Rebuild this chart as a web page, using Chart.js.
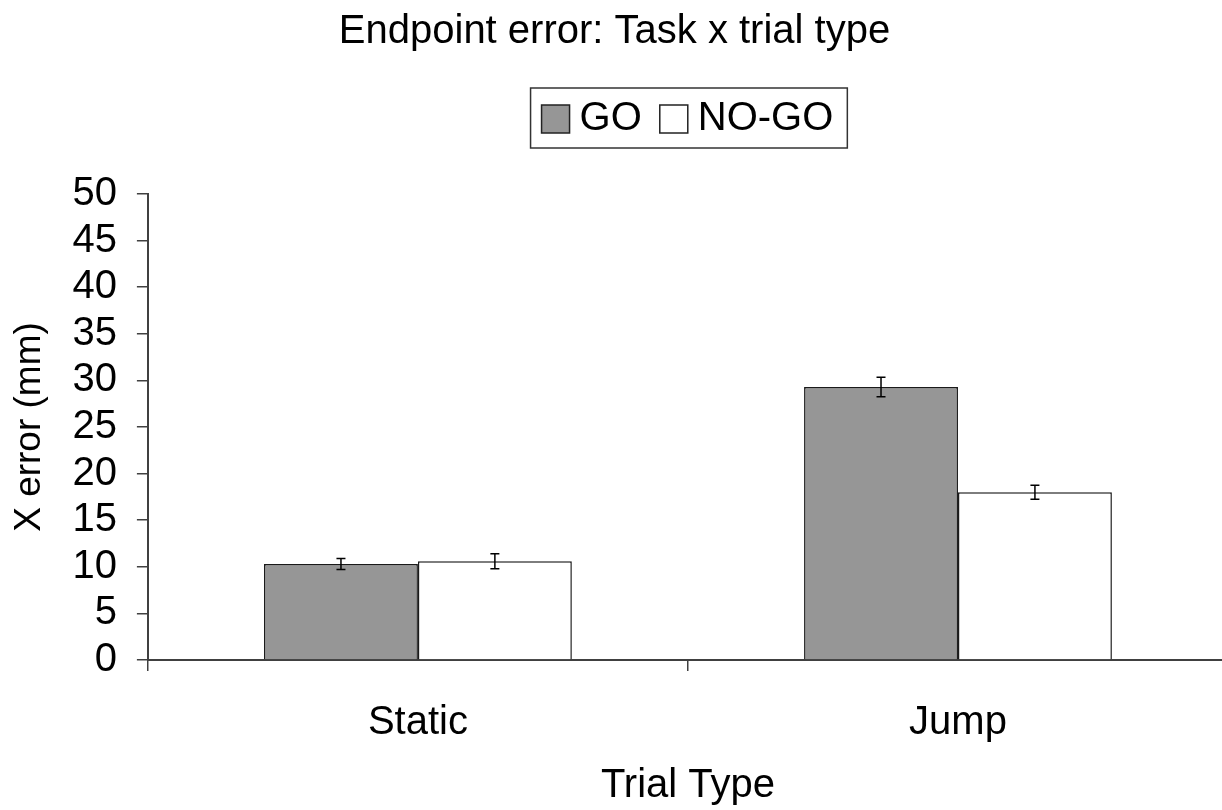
<!DOCTYPE html>
<html>
<head>
<meta charset="utf-8">
<script src="https://cdn.jsdelivr.net/npm/chart.js@4.4.1/dist/chart.umd.min.js"></script>
<style>
  html, body { margin: 0; padding: 0; background: #fff; overflow: hidden; }
  #wrap { width: 1232px; height: 810px; position: relative; }
</style>
</head>
<body>
<div id="wrap"><canvas id="c"></canvas></div>
<script>
const categories = ['Static', 'Jump'];
const seriesNames = ['GO', 'NO-GO'];
const goValues = [10.3, 29.3];
const goErrors = [0.6, 1.05];
const nogoValues = [10.6, 18.0];
const nogoErrors = [0.8, 0.75];
const yMin = 0, yMax = 50, yStep = 5;
const titleText = 'Endpoint error: Task x trial type';
const xTitle = 'Trial Type';
const yTitle = 'X error (mm)';

const FONT = '"Liberation Sans", Arial, Helvetica, sans-serif';
const errorSets = [goErrors, nogoErrors];

const errorBarPlugin = {
  id: 'errorBars',
  afterDatasetsDraw(chart) {
    const ctx = chart.ctx;
    const ys = chart.scales.y;
    ctx.save();
    ctx.strokeStyle = '#000';
    ctx.lineWidth = 1.5;
    chart.data.datasets.forEach((ds, i) => {
      const meta = chart.getDatasetMeta(i);
      meta.data.forEach((bar, j) => {
        const v = ds.data[j], e = errorSets[i][j];
        const top = ys.getPixelForValue(v + e);
        const bot = ys.getPixelForValue(v - e);
        const x = bar.x, cw = 4.5;
        ctx.beginPath();
        ctx.moveTo(x, top); ctx.lineTo(x, bot);
        ctx.moveTo(x - cw, top); ctx.lineTo(x + cw, top);
        ctx.moveTo(x - cw, bot); ctx.lineTo(x + cw, bot);
        ctx.stroke();
      });
    });
    ctx.restore();
  }
};

const boxLegendPlugin = {
  id: 'boxLegend',
  afterDraw(chart) {
    const ctx = chart.ctx;
    const ca = chart.chartArea;
    ctx.save();
    ctx.font = '40px ' + FONT;
    const padL = 11, padR = 14, sw = 28, gapT = 10, gapItem = 18;
    const items = chart.data.datasets.map(ds => ({
      label: ds.label, fill: ds.backgroundColor, w: ctx.measureText(ds.label).width
    }));
    let total = padL + padR;
    items.forEach((it, k) => { total += sw + gapT + it.w + (k < items.length - 1 ? gapItem : 0); });
    const h = 60;
    const cx = (ca.left + ca.right) / 2 + 1;
    const left = cx - total / 2;
    const top = ca.top - 106;
    ctx.strokeStyle = '#333';
    ctx.lineWidth = 1.5;
    ctx.strokeRect(left, top, total, h);
    let x = left + padL;
    const midY = top + h / 2 + 1;
    items.forEach(it => {
      ctx.fillStyle = it.fill;
      ctx.fillRect(x, midY - sw / 2, sw, sw);
      ctx.strokeStyle = '#222';
      ctx.lineWidth = 1.5;
      ctx.strokeRect(x, midY - sw / 2, sw, sw);
      x += sw + gapT;
      ctx.fillStyle = '#000';
      ctx.textBaseline = 'middle';
      ctx.textAlign = 'left';
      ctx.fillText(it.label, x, midY);
      x += it.w + gapItem;
    });
    ctx.restore();
  }
};

new Chart(document.getElementById('c'), {
  type: 'bar',
  data: {
    labels: categories,
    datasets: [
      { label: seriesNames[0], data: goValues, backgroundColor: '#969696', borderColor: '#1a1a1a', borderWidth: 1.5 },
      { label: seriesNames[1], data: nogoValues, backgroundColor: '#ffffff', borderColor: '#1a1a1a', borderWidth: 1.5 }
    ]
  },
  options: {
    responsive: true,
    maintainAspectRatio: false,
    animation: false,
    devicePixelRatio: 1,
    layout: { padding: { left: 1, right: 4, top: 0, bottom: 0 } },
    datasets: { bar: { categoryPercentage: 0.57, barPercentage: 1.0 } },
    plugins: {
      legend: { display: false },
      tooltip: { enabled: false },
      title: {
        display: true,
        text: titleText,
        color: '#000',
        font: { family: FONT, size: 40, weight: 'normal' },
        padding: { top: 8, bottom: 138 }
      }
    },
    scales: {
      x: {
        grid: { display: true, drawOnChartArea: false, drawTicks: true, tickLength: 11, color: '#404040', lineWidth: 1.5, offset: true },
        border: { display: true, color: '#404040', width: 2 },
        ticks: { color: '#000', font: { family: FONT, size: 40, lineHeight: 1.2 }, padding: 28 },
        title: { display: true, text: xTitle, color: '#000', font: { family: FONT, size: 40, lineHeight: 0.55 }, padding: { top: 0, bottom: 13 } }
      },
      y: {
        min: yMin, max: yMax,
        grid: { display: true, drawOnChartArea: false, drawTicks: true, tickLength: 11, color: '#404040', lineWidth: 1.5 },
        border: { display: true, color: '#404040', width: 2 },
        ticks: { stepSize: yStep, autoSkip: false, color: '#000', font: { family: FONT, size: 40 }, padding: 20 },
        title: { display: true, text: yTitle, color: '#000', font: { family: FONT, size: 37 }, padding: { top: 7, bottom: 0 } }
      }
    }
  },
  plugins: [errorBarPlugin, boxLegendPlugin]
});
</script>
</body>
</html>
